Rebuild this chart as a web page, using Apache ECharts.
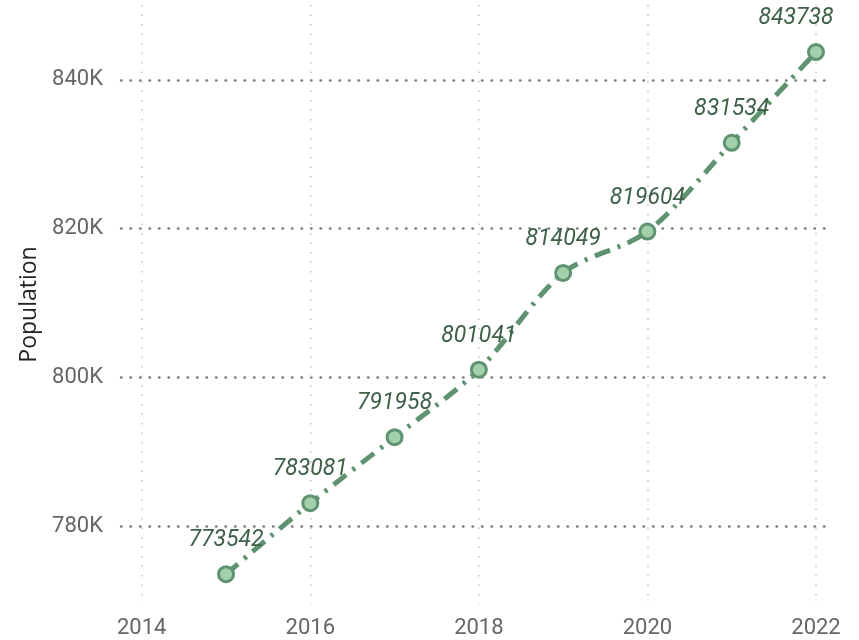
<!DOCTYPE html>
<html>
<head>
<meta charset="utf-8">
<script src="https://cdn.jsdelivr.net/npm/echarts@6/dist/echarts.min.js"></script>
<style>
html, body { margin: 0; padding: 0; background: #fff; }
#population { width: 859px; height: 640px; }
</style>
</head>
<body>
<div id="population"></div>
<script>
var years = [2015, 2016, 2017, 2018, 2019, 2020, 2021, 2022];
var population = [773542, 783081, 791958, 801041, 814049, 819604, 831534, 843738];
var yearTicks = [2014, 2016, 2018, 2020, 2022];
var popTicks = [780000, 800000, 820000, 840000];

var lineColor = '#5f9370';
var labelColor = '#3f6148';

var seriesData = years.map(function (y, i) {
    var item = { value: [y, population[i]] };
    if (i === years.length - 1) {
        item.label = { offset: [-20, 0] };
    }
    return item;
});

var myChart_population = echarts.init(document.getElementById('population'));
var option_population = {
    animation: false,
    grid: {
        left: 121,
        right: 28,
        top: 5,
        bottom: 36
    },
    xAxis: {
        type: 'value',
        min: 2013.754,
        max: 2022.178,
        axisLine: { show: false },
        axisTick: { show: false, customValues: yearTicks },
        axisLabel: {
            customValues: yearTicks,
            margin: 13,
            color: '#666666',
            fontFamily: 'Roboto',
            fontSize: 22,
            formatter: function (v) { return String(v); }
        },
        splitLine: {
            show: true,
            lineStyle: { color: '#c4c4c4', width: 1.5, type: [1.5, 8] }
        }
    },
    yAxis: {
        type: 'value',
        min: 769530,
        max: 850070,
        name: 'Population',
        nameLocation: 'middle',
        nameGap: 80,
        nameTextStyle: { color: '#252423', fontFamily: 'Open Sans', fontSize: 23 },
        axisLine: { show: false },
        axisTick: { show: false, customValues: popTicks },
        axisLabel: {
            customValues: popTicks,
            margin: 18,
            color: '#666666',
            fontFamily: 'Roboto',
            fontSize: 22,
            formatter: function (v) { return Math.round(v / 1000) + 'K'; }
        },
        splitLine: {
            show: true,
            lineStyle: { color: '#7f7f7f', width: 2.5, type: [0.5, 9], cap: 'round' }
        }
    },
    series: [
        {
            name: 'Population',
            type: 'line',
            smooth: 0.3,
            data: seriesData,
            symbol: 'circle',
            symbolSize: 15,
            lineStyle: { color: lineColor, width: 5, type: [16, 8, 3, 8] },
            itemStyle: { color: '#a2d0ab', borderColor: lineColor, borderWidth: 3 },
            label: {
                show: true,
                position: 'top',
                distance: 13,
                color: labelColor,
                fontFamily: 'Roboto',
                fontStyle: 'italic',
                fontSize: 23,
                formatter: function (p) { return String(p.value[1]); }
            }
        }
    ]
};

myChart_population.setOption(option_population);
</script>
</body>
</html>
